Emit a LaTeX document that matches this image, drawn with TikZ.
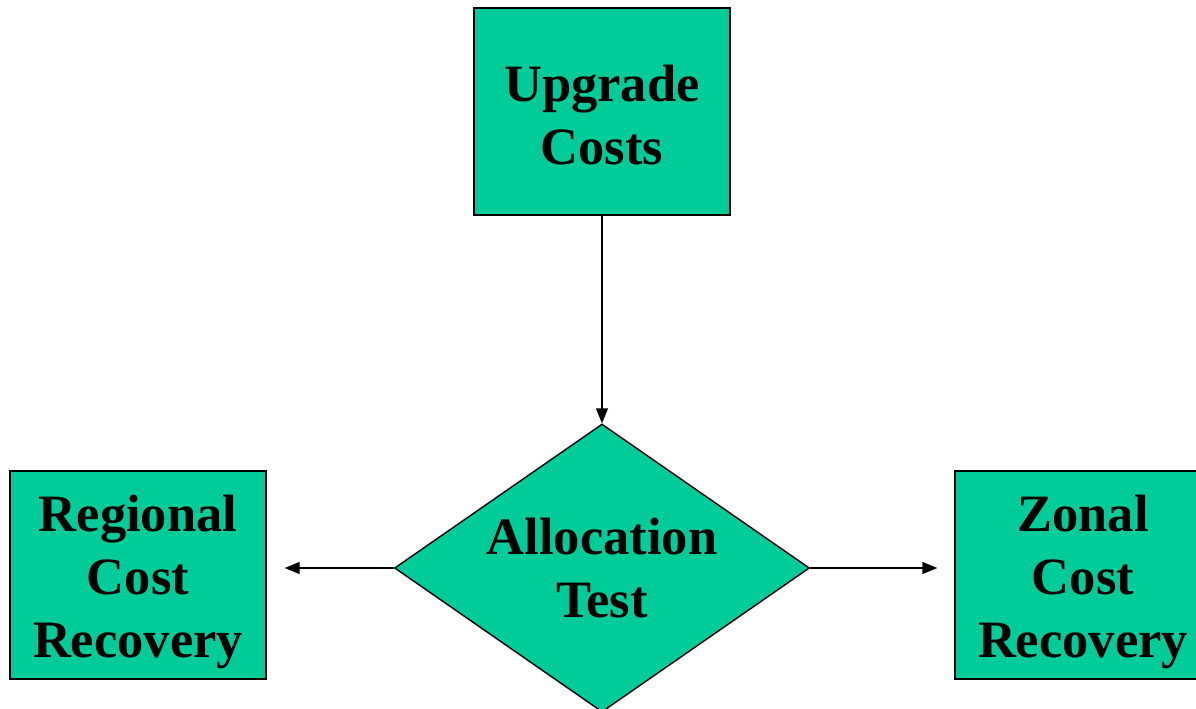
\documentclass[tikz,border=0pt]{standalone}
\usepackage{fontspec}
\setmainfont{Liberation Serif}
\usetikzlibrary{shapes.geometric,arrows.meta}
\definecolor{boxgreen}{RGB}{0,204,153}
\begin{document}
\begin{tikzpicture}[x=1pt, y=-1pt, line width=1.4pt,
    every node/.style={font=\bfseries\fontsize{52.5}{63}\selectfont, align=center, text=black}]
      \tikzset{
	  costbox/.style={rectangle, draw=black, fill=boxgreen, minimum width=256pt, minimum height=207pt, inner sep=0pt},
	  testbox/.style={diamond, draw=black, fill=boxgreen, aspect=1.44, minimum width=415pt, minimum height=288pt, inner sep=0pt},
	  flowarrow/.style={-{Triangle[length=15pt,width=12pt]}, line width=1.4pt}
      }
      \useasboundingbox (0,0) rectangle (1196,709);

      \node[costbox] (upgrade) at (602,111.5) {\rule{0pt}{44pt}Upgrade\\Costs};
      \node[testbox] (test) at (602,568) {Allocation\\Test};
      \node[costbox, minimum height=208pt] (regional) at (138,575) {\rule{0pt}{50pt}Regional\\Cost\\Recovery};
      \node[costbox, minimum height=208pt] (zonal) at (1083,575) {\rule{0pt}{50pt}Zonal\\Cost\\Recovery};

      \draw[flowarrow] (upgrade.south) -- (test.north);
      \draw[flowarrow, shorten >=18pt] (test.west) -- (test.west -| regional.east);
      \draw[flowarrow, shorten >=17pt] (test.east) -- (test.east -| zonal.west);
\end{tikzpicture}
\end{document}
